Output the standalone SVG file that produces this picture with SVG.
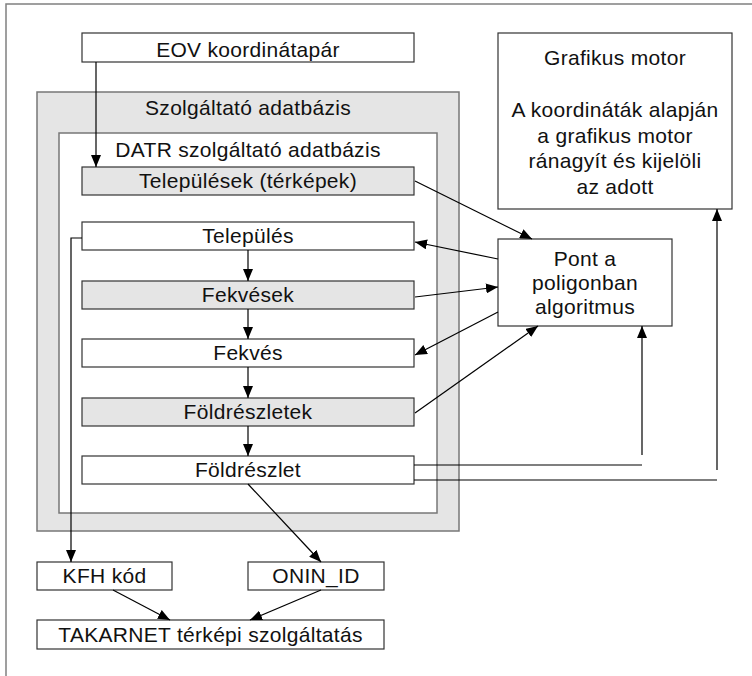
<svg xmlns="http://www.w3.org/2000/svg" width="752" height="676" viewBox="0 0 752 676">
<style>
text{font-family:"Liberation Sans",Arial,sans-serif;font-size:21px;letter-spacing:0.3px;fill:#111;text-anchor:middle}
.w{fill:#fff;stroke:#333;stroke-width:1.2}
.g{fill:#e5e5e5;stroke:#333;stroke-width:1.2}
.c{fill:#e5e5e5;stroke:#777;stroke-width:1.5}
.ci{fill:#fff;stroke:#777;stroke-width:1.5}
.l{fill:none;stroke:#000;stroke-width:1.2}
.a{fill:none;stroke:#000;stroke-width:1.2;marker-end:url(#ah)}
</style>
<defs>
<marker id="ah" viewBox="0 0 12 10" refX="12" refY="5" markerWidth="12" markerHeight="10" markerUnits="userSpaceOnUse" orient="auto">
<path d="M0,0 L12,5 L0,10 z" fill="#000"/>
</marker>
</defs>
<rect x="6" y="4" width="800" height="720" fill="#fff" stroke="#808080" stroke-width="1.5"/>
<g id="container-outer"><rect class="c" x="37" y="92" width="422" height="439"/><text x="248" y="115">Szolgáltató adatbázis</text></g>
<g id="container-inner"><rect class="ci" x="59" y="133" width="378" height="380"/><text x="248" y="157">DATR szolgáltató adatbázis</text></g>
<g id="eov"><rect class="w" x="82" y="33" width="332" height="29"/><text x="248" y="57">EOV koordinátapár</text></g>
<g id="telepulesek"><rect class="g" x="82" y="167" width="332" height="28"/><text x="248" y="188">Települések (térképek)</text></g>
<g id="telepules"><rect class="w" x="82" y="222" width="332" height="28"/><text x="248" y="243">Település</text></g>
<g id="fekvesek"><rect class="g" x="82" y="281" width="332" height="28"/><text x="248" y="302">Fekvések</text></g>
<g id="fekves"><rect class="w" x="82" y="339" width="332" height="28"/><text x="248" y="360">Fekvés</text></g>
<g id="foldreszletek"><rect class="g" x="82" y="398" width="332" height="28"/><text x="248" y="419">Földrészletek</text></g>
<g id="foldreszlet"><rect class="w" x="82" y="456" width="332" height="28"/><text x="248" y="477">Földrészlet</text></g>
<g id="kfh"><rect class="w" x="37" y="562" width="135" height="28"/><text x="104.5" y="583">KFH kód</text></g>
<g id="onin"><rect class="w" x="248" y="562" width="136" height="28"/><text x="316" y="583">ONIN_ID</text></g>
<g id="takarnet"><rect class="w" x="37" y="620" width="347" height="29"/><text x="210.5" y="642">TAKARNET térképi szolgáltatás</text></g>
<g id="grafikus"><rect class="w" x="498" y="33" width="234" height="176"/>
<text x="615" y="65">Grafikus motor</text>
<text x="615" y="117">A koordináták alapján</text>
<text x="615" y="142.5">a grafikus motor</text>
<text x="615" y="168">ránagyít és kijelöli</text>
<text x="615" y="193.5">az adott</text></g>
<g id="pont"><rect class="w" x="498" y="239" width="174" height="87"/>
<text x="585" y="266">Pont a</text>
<text x="585" y="290">poligonban</text>
<text x="585" y="314">algoritmus</text></g>
<g id="connectors">
<path class="a" d="M96,62 V167"/>
<path class="a" d="M248,250 V281"/>
<path class="a" d="M248,309 V339"/>
<path class="a" d="M248,367 V398"/>
<path class="a" d="M248,426 V456"/>
<path class="a" d="M82,238 H71 V562"/>
<path class="a" d="M248,484 L321,562"/>
<path class="a" d="M113,590 L170,620"/>
<path class="a" d="M321,590 L250,620"/>
<path class="a" d="M415,181 L532,239"/>
<path class="a" d="M498,259 L415,242"/>
<path class="a" d="M415,297 L498,287"/>
<path class="a" d="M498,312 L415,355"/>
<path class="a" d="M415,413 L538,326"/>
<path class="l" d="M414,465 H642"/>
<path class="a" d="M642,455 V326"/>
<path class="l" d="M414,480 H717"/>
<path class="a" d="M717,470 V209"/>
</g>
</svg>
